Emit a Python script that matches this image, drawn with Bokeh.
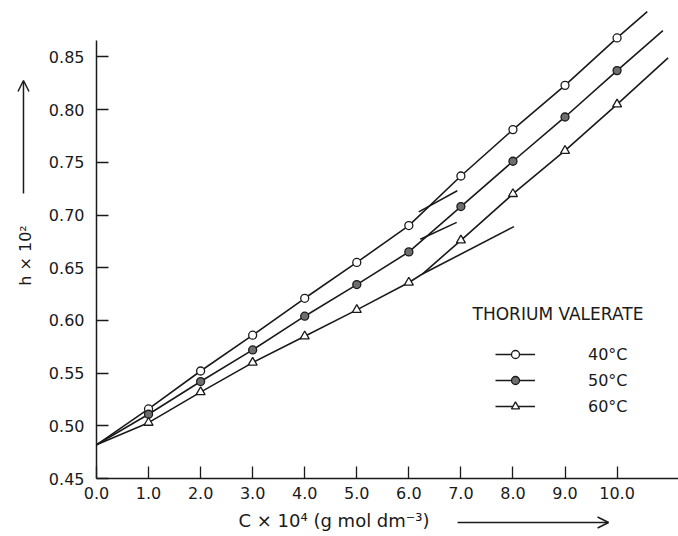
import math
from bokeh.plotting import figure
from bokeh.models import (FixedTicker, NumeralTickFormatter, Label, Arrow, OpenHead,
                          Legend, LegendItem)
from bokeh.embed import file_html
from bokeh.resources import INLINE

# ---------------- data ----------------
conc = [1.0, 2.0, 3.0, 4.0, 5.0, 6.0, 7.0, 8.0, 9.0, 10.0]
h40 = [0.516, 0.552, 0.586, 0.621, 0.655, 0.690, 0.737, 0.781, 0.823, 0.868]
h50 = [0.511, 0.542, 0.572, 0.604, 0.634, 0.665, 0.708, 0.751, 0.793, 0.837]
h60 = [0.503, 0.532, 0.560, 0.585, 0.610, 0.636, 0.676, 0.720, 0.761, 0.805]

# common intercept of the fitted lines at C = 0
start_x = 0.0
start_h = 0.482
# where each drawn line ends beyond the last point
end40 = (10.58, 0.893)
end50 = (10.88, 0.875)
end60 = (10.98, 0.849)
# break point on the 60 C curve
kink60 = (6.26, 0.644)
# extrapolated straight segments (x0, y0, x1, y1)
ext40 = (6.19, 0.703, 6.93, 0.723)
ext50 = (6.22, 0.677, 6.92, 0.693)
ext60 = (6.26, 0.644, 8.02, 0.689)

x_ticks = [0, 1, 2, 3, 4, 5, 6, 7, 8, 9, 10]
y_ticks = [0.45, 0.50, 0.55, 0.60, 0.65, 0.70, 0.75, 0.80, 0.85]
series_labels = ["40°C", "50°C", "60°C"]

FONT = "DejaVu Sans"
INK = "#1a1a1a"

p = figure(width=678, height=536, x_range=(-1.844, 11.18), y_range=(0.395, 0.9035),
           output_backend="svg", toolbar_location=None,
           min_border_left=0, min_border_right=0, min_border_top=0, min_border_bottom=0)
p.grid.visible = False
p.outline_line_color = None
p.background_fill_color = "white"
p.border_fill_color = "white"

# axes, drawn by the library at fixed positions inside the frame
p.xaxis.fixed_location = 0.45
p.yaxis.fixed_location = 0.0
for ax in (p.xaxis[0], p.yaxis[0]):
    ax.axis_line_color = INK
    ax.axis_line_width = 1.5
    ax.major_tick_line_color = INK
    ax.major_tick_line_width = 1.3
    ax.major_tick_in = 12
    ax.major_tick_out = 0
    ax.minor_tick_line_color = None
    ax.major_label_text_font = FONT
    ax.major_label_text_font_size = "16px"
    ax.major_label_text_color = INK

p.xaxis.ticker = FixedTicker(ticks=x_ticks)
p.xaxis.formatter = NumeralTickFormatter(format="0.0")
p.xaxis.major_label_standoff = 8
p.xaxis.bounds = (0, 11.18)
p.yaxis.ticker = FixedTicker(ticks=y_ticks)
p.yaxis.formatter = NumeralTickFormatter(format="0.00")
p.yaxis.major_label_standoff = 12
p.yaxis.bounds = (0.45, 0.8656)

# line paths built from the data
lx40 = [start_x] + conc + [end40[0]]
ly40 = [start_h] + h40 + [end40[1]]
lx50 = [start_x] + conc + [end50[0]]
ly50 = [start_h] + h50 + [end50[1]]
lx60 = [start_x] + conc[:6] + [kink60[0]] + conc[6:] + [end60[0]]
ly60 = [start_h] + h60[:6] + [kink60[1]] + h60[6:] + [end60[1]]

lw = 1.6
r_l40 = p.line(lx40, ly40, line_color=INK, line_width=lw)
r_l50 = p.line(lx50, ly50, line_color=INK, line_width=lw)
r_l60 = p.line(lx60, ly60, line_color=INK, line_width=lw)

for e in (ext40, ext50, ext60):
    p.line([e[0], e[2]], [e[1], e[3]], line_color=INK, line_width=lw)

r_m40 = p.scatter(conc, h40, marker="circle", size=8, fill_color="white",
                  line_color=INK, line_width=1.3)
r_m50 = p.scatter(conc, h50, marker="circle", size=8, fill_color="#6e6e6e",
                  line_color=INK, line_width=1.3)
r_m60 = p.scatter(conc, h60, marker="triangle", size=9, fill_color="white",
                  line_color=INK, line_width=1.3)

# legend
legend = Legend(items=[
    LegendItem(label=series_labels[0], renderers=[r_l40, r_m40]),
    LegendItem(label=series_labels[1], renderers=[r_l50, r_m50]),
    LegendItem(label=series_labels[2], renderers=[r_l60, r_m60]),
], location=(495, 120))
legend.background_fill_alpha = 0
legend.border_line_color = None
legend.padding = 0
legend.margin = 0
legend.spacing = 6
legend.glyph_width = 40
legend.glyph_height = 20
legend.label_height = 20
legend.label_standoff = 53
legend.label_text_font = FONT
legend.label_text_font_size = "16px"
legend.label_text_color = INK
p.add_layout(legend, "center")

p.add_layout(Label(x=7.224, y=0.6065, text="THORIUM VALERATE", text_font=FONT,
                   text_font_size="17px", text_color=INK, text_baseline="middle",
                   text_align="left"))

# axis titles with arrows
p.add_layout(Label(x=4.563, y=0.4102, text="C × 10⁴ (g mol dm⁻³)", text_font=FONT,
                   text_font_size="18px", text_color=INK, text_baseline="middle",
                   text_align="center"))
p.add_layout(Arrow(x_start=6.936, y_start=0.4083, x_end=9.837, y_end=0.4083,
                   line_color=INK, line_width=1.5,
                   end=OpenHead(size=11, line_color=INK, line_width=1.5)))
p.add_layout(Label(x=-1.364, y=0.6616, text="h × 10²", text_font=FONT,
                   text_font_size="16px", text_color=INK, text_baseline="middle",
                   text_align="center", angle=math.pi / 2))
p.add_layout(Arrow(x_start=-1.4025, y_start=0.7204, x_end=-1.4025, y_end=0.8276,
                   line_color=INK, line_width=1.5,
                   end=OpenHead(size=11, line_color=INK, line_width=1.5)))

open("out.html", "w").write(file_html(p, INLINE))
